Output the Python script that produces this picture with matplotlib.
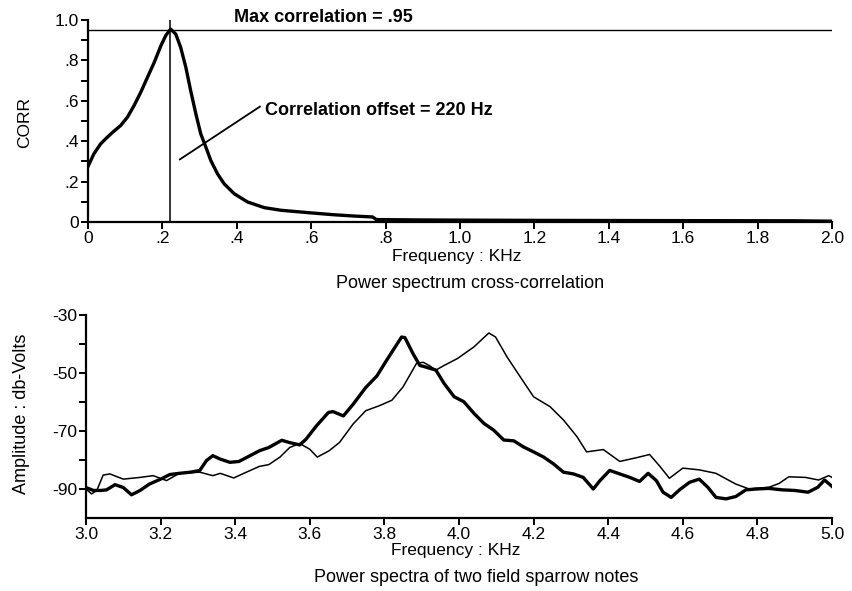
import matplotlib
matplotlib.use("Agg")
import matplotlib.pyplot as plt
from matplotlib.ticker import FixedLocator

plt.rcParams['font.family'] = ['Liberation Sans', 'DejaVu Sans']
plt.rcParams['axes.unicode_minus'] = False

# power spectrum cross-correlation (top panel)
corr_freq = [0.0, 0.016, 0.034, 0.052, 0.07, 0.088, 0.106, 0.124, 0.142, 0.16,
             0.178, 0.196, 0.209, 0.222, 0.236, 0.249, 0.263, 0.276, 0.29, 0.303,
             0.317, 0.33, 0.348, 0.366, 0.393, 0.429, 0.474, 0.519, 0.6, 0.66,
             0.72, 0.765, 0.775, 0.9, 1.2, 1.5, 1.9, 2.0]
corr = [0.275, 0.338, 0.387, 0.42, 0.45, 0.478, 0.519, 0.577, 0.643, 0.717,
        0.79, 0.873, 0.923, 0.955, 0.93, 0.865, 0.766, 0.65, 0.535, 0.437,
        0.37, 0.305, 0.239, 0.189, 0.14, 0.099, 0.071, 0.058, 0.045, 0.036,
        0.029, 0.025, 0.012, 0.01, 0.008, 0.007, 0.006, 0.004]
max_corr = 0.95
offset_khz = 0.22

# power spectra of the two notes (bottom panel)
note1_freq = [3.0, 3.02, 3.04, 3.055, 3.078, 3.10, 3.122, 3.145, 3.17, 3.2,
              3.225, 3.25, 3.28, 3.305, 3.323, 3.34, 3.36, 3.386, 3.41, 3.44,
              3.465, 3.49, 3.525, 3.546, 3.573, 3.59, 3.618, 3.65, 3.662, 3.69,
              3.716, 3.75, 3.78, 3.805, 3.828, 3.846, 3.855, 3.877, 3.895, 3.907,
              3.938, 3.96, 3.987, 4.013, 4.04, 4.067, 4.093, 4.12, 4.147, 4.173,
              4.2, 4.227, 4.253, 4.28, 4.307, 4.333, 4.36, 4.378, 4.404, 4.431,
              4.458, 4.484, 4.507, 4.529, 4.547, 4.569, 4.591, 4.618, 4.644, 4.667,
              4.689, 4.716, 4.742, 4.769, 4.796, 4.831, 4.867, 4.9, 4.936, 4.962,
              4.98, 5.0]
note1_db = [-89.5, -90.5, -90.5, -90.3, -88.5, -89.5, -92.0, -90.5, -88.3, -86.6,
            -85.0, -84.6, -84.2, -83.6, -80.2, -78.5, -79.7, -80.8, -80.5, -78.5,
            -76.8, -75.7, -73.2, -74.0, -74.8, -72.8, -68.2, -63.6, -63.3, -64.8,
            -60.8, -55.0, -51.0, -45.8, -41.2, -37.6, -37.8, -43.4, -47.4, -47.8,
            -49.0, -53.6, -58.2, -59.9, -63.9, -67.4, -69.7, -73.1, -73.4, -75.5,
            -77.2, -79.0, -81.3, -84.2, -84.8, -86.0, -90.0, -87.1, -83.6, -84.8,
            -86.0, -87.4, -84.6, -87.1, -91.1, -92.9, -90.3, -87.7, -86.6, -89.4,
            -92.9, -93.4, -92.6, -90.3, -90.0, -89.8, -90.3, -90.5, -91.1, -89.4,
            -86.9, -89.1]

note2_freq = [3.0, 3.015, 3.029, 3.046, 3.064, 3.10, 3.145, 3.18, 3.216, 3.25,
              3.305, 3.34, 3.36, 3.396, 3.43, 3.465, 3.49, 3.52, 3.546, 3.573,
              3.6, 3.62, 3.652, 3.68, 3.716, 3.75, 3.786, 3.82, 3.85, 3.886,
              3.904, 3.92, 3.938, 3.96, 3.996, 4.04, 4.08, 4.098, 4.129, 4.164,
              4.2, 4.244, 4.28, 4.316, 4.342, 4.387, 4.431, 4.476, 4.511, 4.538,
              4.564, 4.6, 4.644, 4.689, 4.742, 4.778, 4.831, 4.858, 4.884, 4.929,
              4.964, 4.991, 5.0]
note2_db = [-90.0, -91.7, -90.5, -85.2, -84.8, -86.6, -86.0, -85.4, -87.1, -84.6,
            -84.2, -85.4, -84.6, -86.2, -84.2, -82.2, -81.6, -79.0, -75.7, -74.3,
            -76.3, -79.0, -76.8, -73.9, -67.6, -63.0, -61.3, -59.4, -54.8, -46.7,
            -46.3, -47.4, -49.0, -47.4, -45.0, -41.0, -36.2, -37.6, -44.5, -51.3,
            -58.2, -61.6, -66.2, -71.9, -77.2, -76.4, -80.5, -79.2, -78.1, -82.1,
            -86.3, -82.8, -83.4, -84.6, -88.3, -90.0, -89.4, -88.1, -85.8, -86.0,
            -86.9, -85.4, -86.0]

corr_ticks = [0, 0.2, 0.4, 0.6, 0.8, 1.0]
corr_tick_labels = ['0', '.2', '.4', '.6', '.8', '1.0']
khz_ticks_top = [0, 0.2, 0.4, 0.6, 0.8, 1.0, 1.2, 1.4, 1.6, 1.8, 2.0]
khz_labels_top = ['0', '.2', '.4', '.6', '.8', '1.0', '1.2', '1.4', '1.6', '1.8', '2.0']
khz_ticks_bot = [3.0, 3.2, 3.4, 3.6, 3.8, 4.0, 4.2, 4.4, 4.6, 4.8, 5.0]
db_ticks = [-30, -50, -70, -90]

fig = plt.figure(figsize=(8.52, 5.91), dpi=100)

def style(ax):
    for s in ['top', 'right']:
        ax.spines[s].set_visible(False)
    for s in ['left', 'bottom']:
        ax.spines[s].set_linewidth(1.6)
    ax.tick_params(which='both', direction='out', width=1.4, length=5,
                   labelsize=12.5, pad=1.5)

# ---- top panel ----
ax1 = fig.add_axes([88 / 852, 1 - 222 / 591, 744 / 852, 202 / 591])
style(ax1)
ax1.plot(corr_freq, corr, color='black', lw=2.4, solid_joinstyle='round')
ax1.axhline(max_corr, color='black', lw=1.0)
ax1.plot([offset_khz, offset_khz], [0, 1.0], color='black', lw=1.1)
ax1.plot([0.247, 0.462], [0.31, 0.571], color='black', lw=1.3)
ax1.text(0.632, 1.01, 'Max correlation = .95', fontsize=13, fontweight='bold',
         ha='center', va='center')
ax1.text(0.476, 0.554, 'Correlation offset = 220 Hz', fontsize=13,
         fontweight='bold', ha='left', va='center')
ax1.set_xlim(0, 2.0)
ax1.set_ylim(0, 1.0)
ax1.set_yticks(corr_ticks)
ax1.set_yticklabels(corr_tick_labels)
ax1.yaxis.set_minor_locator(FixedLocator([0.1, 0.3, 0.5, 0.7, 0.9]))
ax1.set_xticks(khz_ticks_top)
ax1.set_xticklabels(khz_labels_top)

# ---- bottom panel ----
ax2 = fig.add_axes([86 / 852, 1 - 518 / 591, 746 / 852, 203 / 591])
style(ax2)
ax2.plot(note2_freq, note2_db, color='black', lw=1.1)
ax2.plot(note1_freq, note1_db, color='black', lw=2.4, solid_joinstyle='round')
ax2.set_xlim(3.0, 5.0)
ax2.set_ylim(-100, -30)
ax2.set_yticks(db_ticks)
ax2.yaxis.set_minor_locator(FixedLocator([-40, -60, -80]))
ax2.set_xticks(khz_ticks_bot)
ax2.set_xticklabels(['%.1f' % t for t in khz_ticks_bot])

# labels
fig.text(25 / 852, 1 - 122 / 591, 'CORR', rotation=90, fontsize=12.5,
         ha='center', va='center')
fig.text(457 / 852, 1 - 256 / 591, 'Frequency : KHz', fontsize=12.5,
         ha='center', va='center')
fig.text(470 / 852, 1 - 284 / 591, 'Power spectrum cross-correlation',
         fontsize=13, ha='center', va='center')
fig.text(22 / 852, 1 - 414 / 591, 'Amplitude : db-Volts', rotation=90,
         fontsize=13, ha='center', va='center')
fig.text(456 / 852, 1 - 550 / 591, 'Frequency : KHz', fontsize=12.5,
         ha='center', va='center')
fig.text(476 / 852, 1 - 578 / 591, 'Power spectra of two field sparrow notes',
         fontsize=13, ha='center', va='center')

fig.savefig('out.png', dpi=100)
